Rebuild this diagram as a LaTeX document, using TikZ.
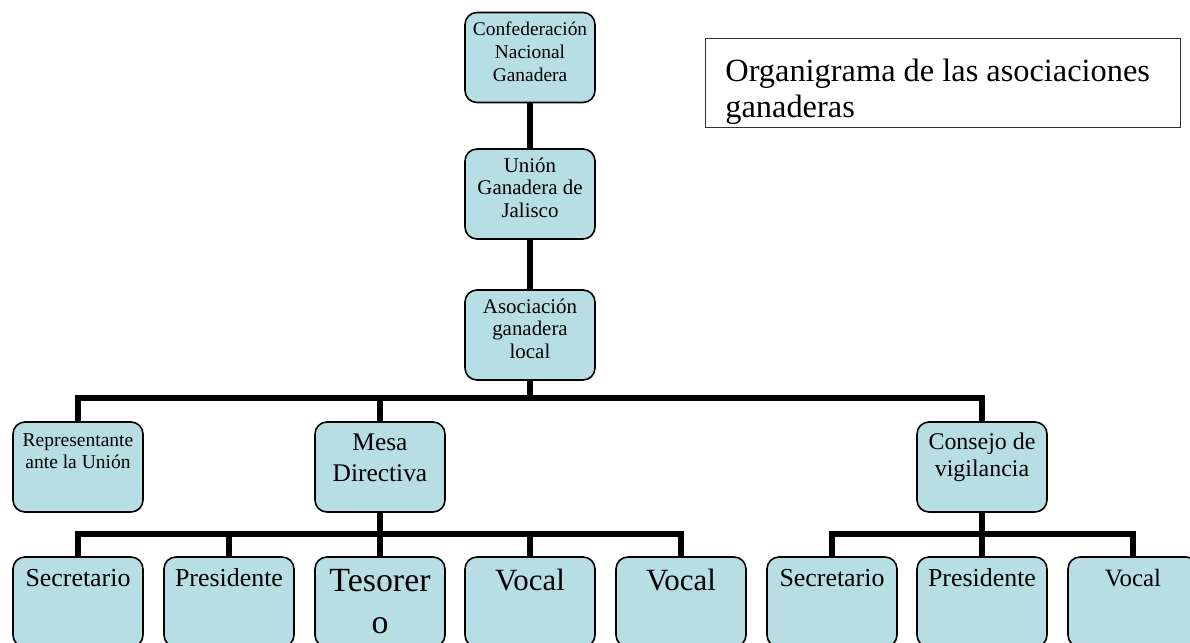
\documentclass[tikz,border=0pt]{standalone}
\usepackage{fontspec}
\setmainfont{Liberation Serif}
\usepackage{tikz}
\usetikzlibrary{shapes}
\definecolor{orgfill}{RGB}{183,222,226}
\newcommand{\toptext}[2][5bp]{\vbox to 86bp{\hsize=128bp\vskip #1\centering\strut #2\par\vfil}}
\newcommand{\fs}[2]{\fontsize{#1}{#2}\selectfont}
\tikzset{
orgbox/.style={draw,line width=1.6pt,rounded corners=12bp,fill=orgfill,minimum width=130bp,minimum height=90bp,inner sep=0pt},
orgline/.style={line width=6pt},
titlebox/.style={draw=black!80,line width=0.8pt,anchor=north west,inner sep=0pt,font=\fs{32.5}{36}}
}

\begin{document}
\begin{tikzpicture}
\useasboundingbox (0bp,0bp) rectangle (1190bp,-643bp);
\clip (0bp,0bp) rectangle (1190bp,-643bp);

\node (CNG) at (530bp,-57.5bp)[orgbox,font=\fs{19.5}{23}] {\toptext{Confederación\\Nacional\\Ganadera}};
\node (UGJ) at (530bp,-194bp)[orgbox,font=\fs{21}{23}] {\toptext{Unión\\Ganadera de\\Jalisco}};
\node (AGL) at (530bp,-335bp)[orgbox,font=\fs{21}{23}] {\toptext{Asociación\\ganadera\\local}};
\node (Rep) at (78bp,-467bp)[orgbox,font=\fs{19.6}{22}] {\toptext[7bp]{Representante\\ante la Unión}};
\node (Mesa) at (380bp,-467bp)[orgbox,font=\fs{25.5}{31}] {\toptext{Mesa\\Directiva}};
\node (Cons) at (982bp,-467bp)[orgbox,font=\fs{24}{27}] {\toptext[7bp]{Consejo de\\vigilancia}};
\node (MSec) at (78bp,-602bp)[orgbox,font=\fs{26}{30}] {\toptext[7bp]{Secretario}};
\node (MPre) at (229bp,-602bp)[orgbox,font=\fs{26}{30}] {\toptext[7bp]{Presidente}};
\node (MTes) at (380bp,-602bp)[orgbox,font=\fs{34}{42}] {\toptext[3bp]{Tesorer\\o}};
\node (MVo1) at (530bp,-602bp)[orgbox,font=\fs{31}{35}] {\toptext[7bp]{Vocal}};
\node (MVo2) at (681bp,-602bp)[orgbox,font=\fs{31}{35}] {\toptext[7bp]{Vocal}};
\node (CSec) at (832bp,-602bp)[orgbox,font=\fs{26}{30}] {\toptext[7bp]{Secretario}};
\node (CPre) at (982bp,-602bp)[orgbox,font=\fs{26}{30}] {\toptext[7bp]{Presidente}};
\node (CVoc) at (1133bp,-602bp)[orgbox,font=\fs{25}{30}] {\toptext[7bp]{Vocal}};
\node (Tit) at (705bp,-38bp)[titlebox] {\vbox to 89bp{\hsize=475bp\raggedright\leftskip=20bp\vskip 18bp\strut Organigrama de las asociaciones\\ganaderas\par\vfil}};

\coordinate (B1) at (530bp,-398bp);
\coordinate (B2) at (380bp,-534bp);
\coordinate (B3) at (982bp,-534bp);
\draw [orgline] (CNG.south) -- (UGJ.north);
\draw [orgline] (UGJ.south) -- (AGL.north);
\draw [orgline] (AGL.south) -- (B1);
\draw [orgline] (B1) -| (Rep.north);
\draw [orgline] (B1) -| (Mesa.north);
\draw [orgline] (B1) -| (Cons.north);
\draw [orgline] (Mesa.south) -- (B2);
\draw [orgline] (B2) -| (MSec.north);
\draw [orgline] (B2) -| (MPre.north);
\draw [orgline] (B2) -- (MTes.north);
\draw [orgline] (B2) -| (MVo1.north);
\draw [orgline] (B2) -| (MVo2.north);
\draw [orgline] (Cons.south) -- (B3);
\draw [orgline] (B3) -| (CSec.north);
\draw [orgline] (B3) -- (CPre.north);
\draw [orgline] (B3) -| (CVoc.north);
\end{tikzpicture}
\end{document}
